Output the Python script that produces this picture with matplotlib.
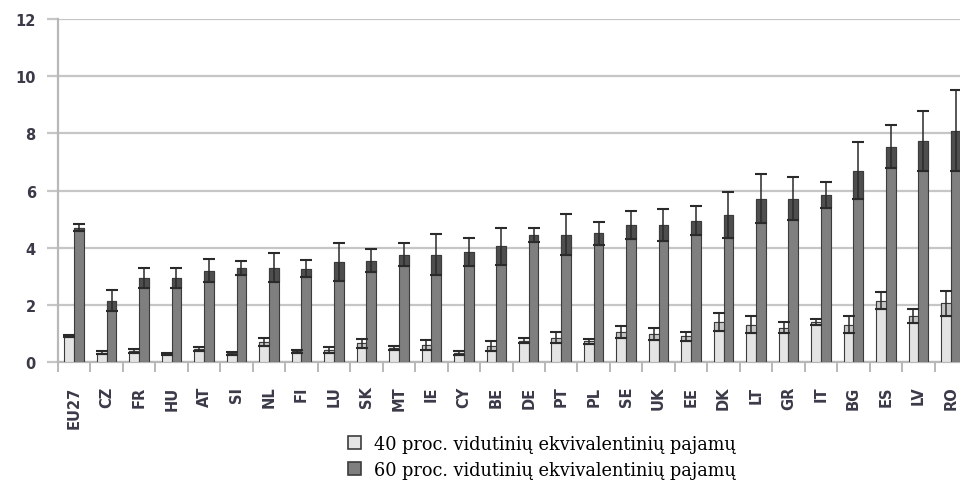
import matplotlib.pyplot as plt
import matplotlib.patches as mpatches
import numpy as np

countries = ['EU27', 'CZ', 'FR', 'HU', 'AT', 'SI', 'NL', 'FI', 'LU', 'SK',
             'MT', 'IE', 'CY', 'BE', 'DE', 'PT', 'PL', 'SE', 'UK', 'EE',
             'DK', 'LT', 'GR', 'IT', 'BG', 'ES', 'LV', 'RO']

# 40 % of median equivalised income
low40 = [0.9, 0.32, 0.38, 0.28, 0.45, 0.3, 0.7, 0.38, 0.42, 0.65,
         0.5, 0.6, 0.3, 0.55, 0.75, 0.85, 0.72, 1.05, 0.98, 0.9,
         1.4, 1.3, 1.2, 1.4, 1.3, 2.15, 1.6, 2.05]
low40_err = [0.03, 0.05, 0.07, 0.04, 0.08, 0.05, 0.15, 0.05, 0.12, 0.15,
             0.07, 0.18, 0.07, 0.17, 0.1, 0.2, 0.08, 0.2, 0.2, 0.15,
             0.3, 0.3, 0.2, 0.1, 0.3, 0.3, 0.25, 0.45]

# 60 % of median equivalised income
low60 = [4.7, 2.15, 2.95, 2.95, 3.2, 3.3, 3.3, 3.27, 3.5, 3.55,
         3.75, 3.75, 3.85, 4.05, 4.45, 4.45, 4.5, 4.8, 4.8, 4.95,
         5.15, 5.72, 5.72, 5.84, 6.69, 7.53, 7.74, 8.09]
low60_err = [0.12, 0.38, 0.35, 0.35, 0.4, 0.25, 0.5, 0.3, 0.65, 0.4,
             0.4, 0.72, 0.5, 0.65, 0.25, 0.72, 0.4, 0.5, 0.55, 0.5,
             0.8, 0.85, 0.75, 0.45, 1.0, 0.75, 1.05, 1.42]

labels = ['40 proc. vidutinių ekvivalentinių pajamų',
          '60 proc. vidutinių ekvivalentinių pajamų']

light = '#e4e4e4'
dark = '#7f7f7f'
edge = '#3c3c3c'

fig = plt.figure(figsize=(9.6, 4.81), dpi=100)
ax = fig.add_axes([58 / 960, 118 / 481, 909 / 960, 343 / 481])

x = np.arange(len(countries)) + 0.5
w = 0.3

ax.bar(x - w / 2, low40, w, color=light, edgecolor=edge, linewidth=0.8, zorder=3)
ax.bar(x + w / 2, low60, w, color=dark, edgecolor=edge, linewidth=0.8, zorder=3)

# darker band for the lower half of each error interval
lo40 = np.array(low40) - np.array(low40_err)
lo60 = np.array(low60) - np.array(low60_err)
ax.bar(x - w / 2, low40_err, w, bottom=lo40, color='#c4c4c4',
       edgecolor=edge, linewidth=0.8, zorder=4)
ax.bar(x + w / 2, low60_err, w, bottom=lo60, color='#4e4e4e',
       edgecolor=edge, linewidth=0.8, zorder=4)

ax.errorbar(x - w / 2, low40, yerr=low40_err, fmt='none', ecolor='#2a2a2a',
            elinewidth=1.1, capsize=4, capthick=1.5, zorder=5)
ax.errorbar(x + w / 2, low60, yerr=low60_err, fmt='none', ecolor='#2a2a2a',
            elinewidth=1.1, capsize=4, capthick=1.5, zorder=5)

ax.set_xlim(0, len(countries))
ax.set_ylim(0, 12)
ax.set_yticks(np.arange(0, 13, 2))
ax.yaxis.grid(True, color='#c6c6c6', linewidth=1.6, zorder=0)
ax.set_axisbelow(True)

for s in ['top', 'right']:
    ax.spines[s].set_visible(False)
ax.spines['left'].set_color('#b8b8b8')
ax.spines['left'].set_linewidth(1.6)
ax.spines['bottom'].set_color('#b8b8b8')
ax.spines['bottom'].set_linewidth(1.6)

ax.set_xticks(np.arange(len(countries) + 1))
ax.set_xticklabels([])
ax.set_xticks(x, minor=True)
ax.set_xticklabels(countries, minor=True, rotation=90, fontsize=10.5,
                   fontweight='bold', color='#3a3a48', va='top')
ax.tick_params(axis='x', which='major', length=7, width=1.4, color='#b8b8b8')
ax.tick_params(axis='x', which='minor', length=0, pad=17)
ax.tick_params(axis='y', length=8, width=1.6, color='#c6c6c6', pad=8,
               labelsize=10.5, labelcolor='#3a3a48')
for t in ax.get_yticklabels():
    t.set_fontweight('bold')

handles = [mpatches.Patch(facecolor=light, edgecolor=edge, linewidth=1.2),
           mpatches.Patch(facecolor=dark, edgecolor=edge, linewidth=1.2)]
fig.legend(handles, labels, loc='upper left', bbox_to_anchor=(341 / 960, 1 - 429 / 481),
           frameon=False, prop={'family': 'DejaVu Serif', 'size': 12.8},
           handlelength=0.75, handleheight=0.75, handletextpad=0.7,
           labelspacing=0.42, borderaxespad=0)

fig.savefig('out.png', dpi=100)
